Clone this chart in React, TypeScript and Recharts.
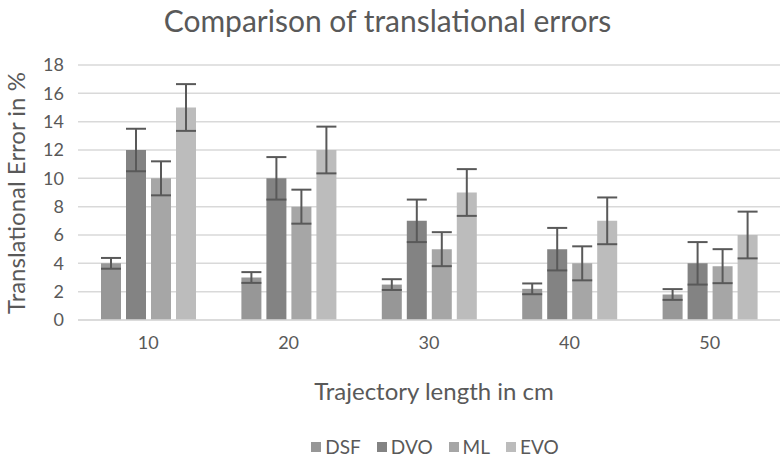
import React from 'react';
import { BarChart, Bar, XAxis, YAxis, CartesianGrid, ErrorBar, Legend } from 'recharts';

const categories = ['10', '20', '30', '40', '50'];
const dsfValues = [4, 3, 2.5, 2.2, 1.8];
const dvoValues = [12, 10, 7, 5, 4];
const mlValues = [10, 8, 5, 4, 3.8];
const evoValues = [15, 12, 9, 7, 6];
const dsfErrors = [0.38, 0.38, 0.38, 0.38, 0.38];
const dvoErrors = [1.5, 1.5, 1.5, 1.5, 1.5];
const mlErrors = [1.2, 1.2, 1.2, 1.2, 1.2];
const evoErrors = [1.65, 1.65, 1.65, 1.65, 1.65];
const yTicks = [0, 2, 4, 6, 8, 10, 12, 14, 16, 18];

const seriesNames = ['DSF', 'DVO', 'ML', 'EVO'];
const seriesColors = ['#979797', '#838383', '#a6a6a6', '#bcbcbc'];

const data = categories.map((c, i) => ({
  cat: c,
  DSF: dsfValues[i],
  DVO: dvoValues[i],
  ML: mlValues[i],
  EVO: evoValues[i],
  DSFerr: dsfErrors[i],
  DVOerr: dvoErrors[i],
  MLerr: mlErrors[i],
  EVOerr: evoErrors[i],
}));

const FONT = "Lato, 'Open Sans', sans-serif";
const TEXT = '#595959';

const renderLegend = () => (
  <div style={{ display: 'flex', justifyContent: 'center', alignItems: 'center', fontFamily: FONT, fontSize: 19, color: TEXT, lineHeight: '24px' }}>
    {seriesNames.map((name, i) => (
      <div key={name} style={{ display: 'flex', alignItems: 'center', marginRight: i < seriesNames.length - 1 ? 16 : 0 }}>
        <span style={{ display: 'inline-block', width: 10, height: 10, background: seriesColors[i], marginRight: 4 }} />
        <span>{name}</span>
      </div>
    ))}
  </div>
);

export default function App() {
  return (
    <div style={{ position: 'absolute', left: 0, top: 0, width: 780, height: 460, background: '#fff', fontFamily: FONT }}>
      <div style={{ position: 'absolute', left: 0, width: 775, top: 0, textAlign: 'center', fontSize: 30, color: TEXT, whiteSpace: 'nowrap', lineHeight: '40px' }}>
        Comparison of translational errors
      </div>
      <div style={{ position: 'absolute', left: 16, top: 193, width: 0, height: 0 }}>
        <div style={{ position: 'absolute', left: -150, top: -15, width: 300, textAlign: 'center', fontSize: 24, color: TEXT, transform: 'rotate(-90deg)', whiteSpace: 'nowrap', lineHeight: '30px' }}>
          Translational Error in %
        </div>
      </div>
      <div style={{ position: 'absolute', left: 229, width: 410, top: 376, textAlign: 'center', fontSize: 24, color: TEXT, whiteSpace: 'nowrap', lineHeight: '30px' }}>
        Trajectory length in cm
      </div>
      <BarChart
        width={780}
        height={460}
        data={data}
        margin={{ top: 65, right: 0, left: 0, bottom: 37 }}
        barSize={20}
        barGap={5}
      >
        <CartesianGrid vertical={false} stroke="#d9d9d9" strokeWidth={1.5} />
        <XAxis
          dataKey="cat"
          axisLine={{ stroke: '#d9d9d9', strokeWidth: 1.5 }}
          tickLine={false}
          tick={{ fill: TEXT, fontSize: 18, fontFamily: FONT }}
          tickMargin={10}
          height={79}
        />
        <YAxis
          width={78}
          domain={[0, 18]}
          ticks={yTicks}
          axisLine={false}
          tickLine={false}
          tickMargin={8}
          tick={{ fill: TEXT, fontSize: 18, fontFamily: FONT }}
        />
        <Legend
          verticalAlign="bottom"
          align="center"
          content={renderLegend}
          wrapperStyle={{ left: 45, width: 780, top: 435 }}
        />
        {seriesNames.map((name, i) => (
          <Bar key={name} dataKey={name} fill={seriesColors[i]} isAnimationActive={false}>
            <ErrorBar dataKey={name + 'err'} width={10} stroke="#595959" strokeWidth={2} />
          </Bar>
        ))}
      </BarChart>
    </div>
  );
}
